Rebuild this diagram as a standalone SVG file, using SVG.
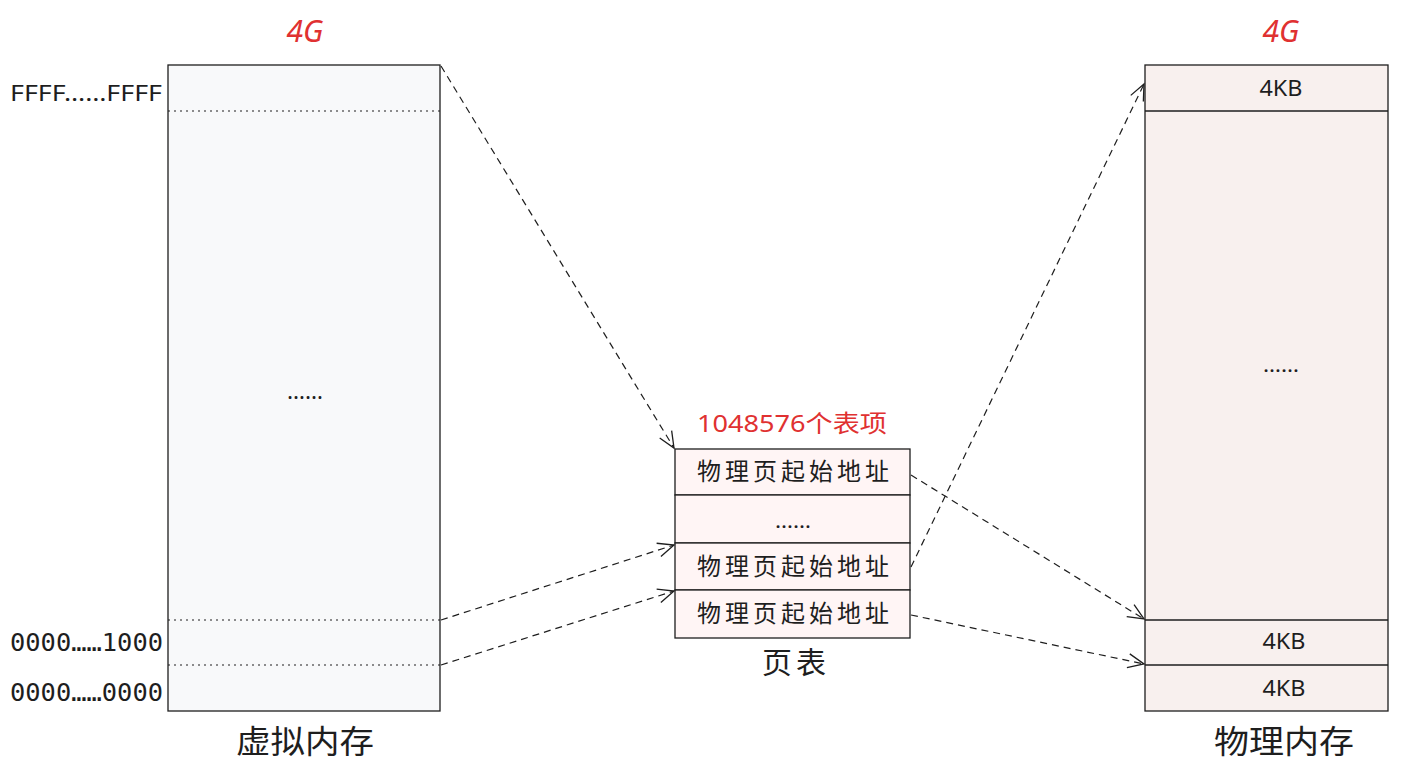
<svg xmlns="http://www.w3.org/2000/svg" width="1426" height="776" viewBox="0 0 1426 776">
<style>
text{font-family:"Noto Sans","Noto Sans CJK SC",sans-serif;fill:#1e1e1e;text-anchor:middle}
.red{fill:#e03131}
.box{stroke:#1e1e1e;stroke-width:1.3}
.dot{stroke:#1e1e1e;stroke-width:1.2;stroke-dasharray:2 4;fill:none}
.conn{stroke:#1e1e1e;stroke-width:1.2;stroke-dasharray:7 5;fill:none;marker-end:url(#ah)}
.mono{font-family:"DejaVu Sans Mono","Liberation Mono",monospace;text-anchor:start}
</style>
<defs>
<marker id="ah" markerWidth="20" markerHeight="20" refX="18" refY="10" orient="auto" markerUnits="userSpaceOnUse">
<path d="M2,3 L18,10 L2,17" fill="none" stroke="#1e1e1e" stroke-width="1.3"/>
</marker>
</defs>
<rect width="1426" height="776" fill="#ffffff"/>
<g id="virtual">
<rect class="box" x="168" y="65" width="272" height="646" fill="#f8f9fa"/>
<line class="dot" x1="168" y1="111" x2="440" y2="111"/>
<line class="dot" x1="168" y1="620" x2="440" y2="620"/>
<line class="dot" x1="168" y1="665" x2="440" y2="665"/>
<text x="305" y="399" font-size="22" textLength="36" lengthAdjust="spacingAndGlyphs">……</text>
<text class="red" x="305" y="42" font-size="30" font-style="italic">4G</text>
<text x="10" y="101" font-size="22" style="text-anchor:start" textLength="152" lengthAdjust="spacingAndGlyphs">FFFF……FFFF</text>
<text class="mono" x="10" y="651" font-size="24" textLength="153" lengthAdjust="spacingAndGlyphs">0000……1000</text>
<text class="mono" x="10" y="701" font-size="24" textLength="153" lengthAdjust="spacingAndGlyphs">0000……0000</text>
<text x="305" y="753" font-size="32" textLength="138" lengthAdjust="spacingAndGlyphs">虚拟内存</text>
</g>
<g id="pagetable">
<rect class="box" x="675" y="449" width="235" height="46" fill="#fff5f5"/>
<rect class="box" x="675" y="495" width="235" height="48" fill="#fff5f5"/>
<rect class="box" x="675" y="543" width="235" height="47" fill="#fff5f5"/>
<rect class="box" x="675" y="590" width="235" height="48" fill="#fff5f5"/>
<text x="793" y="480" font-size="24" textLength="192">物理页起始地址</text>
<text x="793" y="528" font-size="20" textLength="36" lengthAdjust="spacingAndGlyphs">……</text>
<text x="793" y="575" font-size="24" textLength="192">物理页起始地址</text>
<text x="793" y="622" font-size="24" textLength="192">物理页起始地址</text>
<text class="red" x="792" y="432" font-size="24" textLength="190" lengthAdjust="spacingAndGlyphs">1048576个表项</text>
<text x="794" y="673" font-size="30" textLength="64">页表</text>
</g>
<g id="physical">
<rect class="box" x="1145" y="65" width="243" height="646" fill="#f8f0ee"/>
<line class="box" x1="1145" y1="111" x2="1388" y2="111"/>
<line class="box" x1="1145" y1="620" x2="1388" y2="620"/>
<line class="box" x1="1145" y1="665" x2="1388" y2="665"/>
<text x="1281" y="96" font-size="22" textLength="43" lengthAdjust="spacingAndGlyphs">4KB</text>
<text x="1281" y="372" font-size="20" textLength="36" lengthAdjust="spacingAndGlyphs">……</text>
<text x="1284" y="649" font-size="22" textLength="43" lengthAdjust="spacingAndGlyphs">4KB</text>
<text x="1284" y="696" font-size="22" textLength="43" lengthAdjust="spacingAndGlyphs">4KB</text>
<text class="red" x="1281" y="42" font-size="30" font-style="italic">4G</text>
<text x="1284" y="753" font-size="32" textLength="140" lengthAdjust="spacingAndGlyphs">物理内存</text>
</g>
<g id="connectors">
<path class="conn" d="M441,66 L674,448"/>
<path class="conn" d="M441,620 L674,545"/>
<path class="conn" d="M441,665 L674,591"/>
<path class="conn" d="M911,475 L1144,619"/>
<path class="conn" d="M911,567 L1144,84"/>
<path class="conn" d="M911,615 L1144,664"/>
</g>
</svg>
